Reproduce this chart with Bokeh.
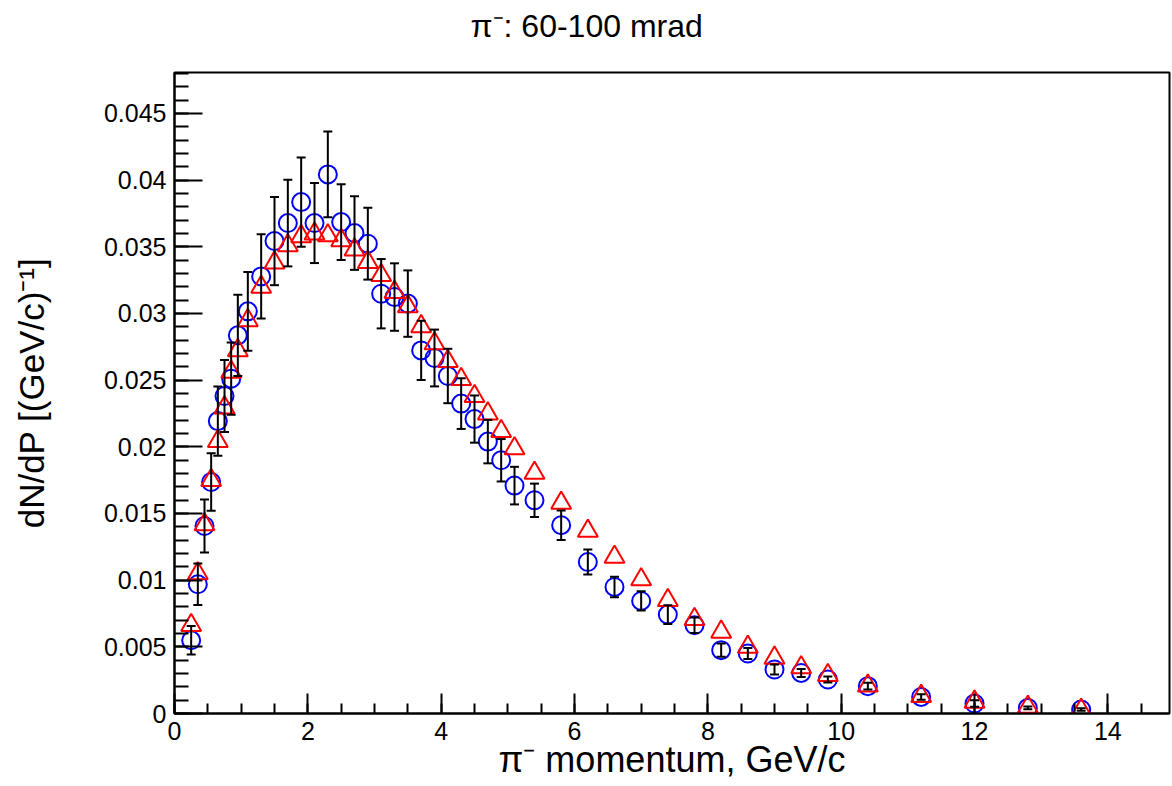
from bokeh.plotting import figure
from bokeh.models import ColumnDataSource, FixedTicker, Whisker, TeeHead, Range1d, Title
from bokeh.embed import file_html
from bokeh.resources import INLINE

# ---- data ----
momentum = [0.25, 0.35, 0.45, 0.55, 0.65, 0.75, 0.85, 0.95, 1.1, 1.3, 1.5, 1.7, 1.9, 2.1,
            2.3, 2.5, 2.7, 2.9, 3.1, 3.3, 3.5, 3.7, 3.9, 4.1, 4.3, 4.5, 4.7, 4.9, 5.1, 5.4,
            5.8, 6.2, 6.6, 7.0, 7.4, 7.8, 8.2, 8.6, 9.0, 9.4, 9.8, 10.4, 11.2, 12.0, 12.8, 13.6]

data_vals = [0.00549, 0.00969, 0.01406, 0.01736, 0.02193, 0.02381, 0.02511, 0.02836, 0.03016,
             0.03278, 0.03543, 0.03678, 0.03835, 0.03678, 0.04043, 0.03685, 0.03603, 0.03523,
             0.03148, 0.03123, 0.03074, 0.02723, 0.02666, 0.02531, 0.02324, 0.02208, 0.02039,
             0.01899, 0.01709, 0.01599, 0.01412, 0.01136, 0.00949, 0.00844, 0.00742, 0.00662,
             0.00475, 0.00450, 0.00330, 0.00304, 0.00255, 0.00205, 0.00124, 0.00075, 0.00042,
             0.00030]

data_err = [0.00107, 0.00156, 0.00199, 0.00215, 0.00260, 0.00270, 0.00271, 0.00305, 0.00295,
            0.00316, 0.00331, 0.00325, 0.00335, 0.00300, 0.00321, 0.00284, 0.00276, 0.00269,
            0.00260, 0.00253, 0.00249, 0.00222, 0.00213, 0.00204, 0.00190, 0.00177, 0.00163,
            0.00159, 0.00141, 0.00125, 0.00110, 0.00093, 0.00077, 0.00072, 0.00070, 0.00058,
            0.00050, 0.00041, 0.00037, 0.00030, 0.00022, 0.00025, 0.00021, 0.00025, 0.00010,
            0.00010]

model_vals = [0.00662, 0.01050, 0.01417, 0.01749, 0.02041, 0.02294, 0.02561, 0.02723, 0.02948,
              0.03198, 0.03381, 0.03510, 0.03578, 0.03598, 0.03585, 0.03548, 0.03478, 0.03385,
              0.03286, 0.03160, 0.03053, 0.02903, 0.02774, 0.02641, 0.02506, 0.02379, 0.02249,
              0.02116, 0.01987, 0.01804, 0.01579, 0.01369, 0.01174, 0.01005, 0.00849, 0.00707,
              0.00612, 0.00499, 0.00417, 0.00345, 0.00287, 0.00208, 0.00130, 0.00087, 0.00049,
              0.00025]

x_ticks = [0, 2, 4, 6, 8, 10, 12, 14]
x_tick_labels = ["0", "2", "4", "6", "8", "10", "12", "14"]
y_ticks = [0, 0.005, 0.01, 0.015, 0.02, 0.025, 0.03, 0.035, 0.04, 0.045]
y_tick_labels = ["0", "0.005", "0.01", "0.015", "0.02", "0.025", "0.03", "0.035", "0.04", "0.045"]

title_text = "π⁻: 60-100 mrad"
x_label = "π⁻ momentum, GeV/c"
y_label = "dN/dP [(GeV/c)⁻¹]"

FONT = "Liberation Sans"

# ---- figure ----
W, H = 1172, 786
FL, FR, FT, FB = 174, 1169, 72, 713

p = figure(width=W, height=H, output_backend="svg", toolbar_location=None,
           x_range=Range1d(0, 14.925), y_range=Range1d(0, 0.04807),
           min_border_left=FL, min_border_right=W - FR, min_border_top=FT,
           min_border_bottom=H - FB)
p.background_fill_color = "white"
p.border_fill_color = "white"
p.outline_line_color = "black"
p.outline_line_width = 2
p.grid.visible = False

# spacer between frame and title so the title sits near the top of the canvas
spacer = Title(text=" ", text_font_size="2px", standoff=25)
p.add_layout(spacer, "above")

p.title.text = title_text
p.title.align = "left"
p.title.offset = 296
p.title.standoff = 0
p.title.text_font = FONT
p.title.text_font_size = "32px"
p.title.text_font_style = "normal"
p.title.text_color = "black"

x_minor = [i * 0.5 for i in range(0, 30)]
y_minor = [i * 0.001 for i in range(0, 49)]
p.xaxis.ticker = FixedTicker(ticks=x_ticks, minor_ticks=x_minor)
p.yaxis.ticker = FixedTicker(ticks=y_ticks, minor_ticks=y_minor)
p.xaxis.major_label_overrides = dict(zip(x_ticks, x_tick_labels))
p.yaxis.major_label_overrides = dict(zip(y_ticks, y_tick_labels))

for ax in (p.xaxis[0], p.yaxis[0]):
    ax.axis_line_color = "black"
    ax.axis_line_width = 2
    ax.major_tick_line_width = 2
    ax.minor_tick_line_width = 2
    ax.major_tick_out = 0
    ax.minor_tick_out = 0
    ax.major_label_text_font = FONT
    ax.major_label_text_font_size = "25px"
    ax.major_label_text_color = "black"
    ax.axis_label_text_font = FONT
    ax.axis_label_text_font_style = "normal"
    ax.axis_label_text_color = "black"

p.xaxis.axis_label_text_font_size = "36px"
p.yaxis.axis_label_text_font_size = "35px"
p.xaxis.major_tick_in = 20
p.xaxis.minor_tick_in = 10
p.yaxis.major_tick_in = 28
p.yaxis.minor_tick_in = 14
p.xaxis.major_label_standoff = 8
p.xaxis.axis_label_standoff = -4
p.yaxis.major_label_standoff = 8
p.yaxis.axis_label_standoff = 50
p.xaxis.axis_label = x_label
p.yaxis.axis_label = y_label

src = ColumnDataSource(dict(
    x=momentum, y=data_vals, m=model_vals,
    upper=[v + e for v, e in zip(data_vals, data_err)],
    lower=[v - e for v, e in zip(data_vals, data_err)],
))

p.scatter("x", "y", source=src, marker="circle", size=18, fill_color=None,
          line_color="#0000ff", line_width=2)
p.scatter("x", "m", source=src, marker="triangle", size=20, fill_color=None,
          line_color="#ff0000", line_width=2)

wh = Whisker(base="x", upper="upper", lower="lower", source=src,
             line_color="black", line_width=2, level="overlay",
             upper_head=TeeHead(size=9, line_width=2, line_color="black"),
             lower_head=TeeHead(size=9, line_width=2, line_color="black"))
p.add_layout(wh)

open("out.html", "w").write(file_html(p, INLINE))
